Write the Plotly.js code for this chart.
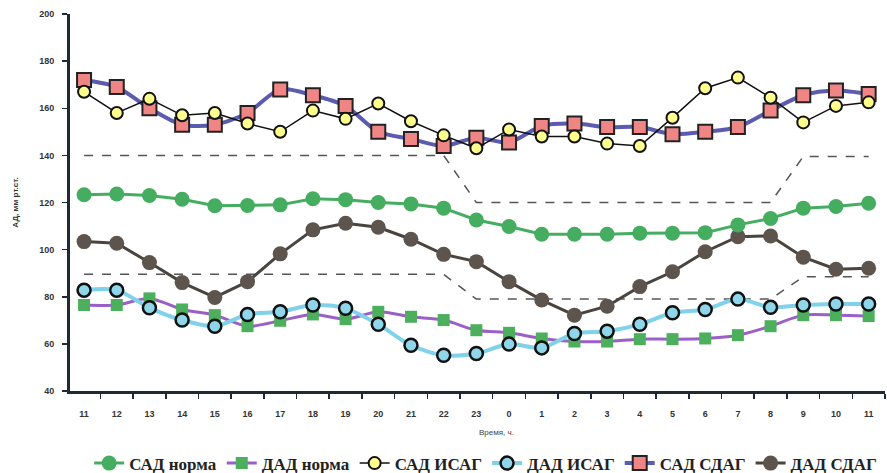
<!DOCTYPE html>
<html>
<head>
<meta charset="utf-8">
<script src="https://cdn.plot.ly/plotly-3.0.1.min.js"></script>
<style>html,body{margin:0;padding:0;background:#fff;}#chart{width:887px;height:473px;}</style>
</head>
<body>
<div id="chart"></div>
<script>
// Hour labels (categories)
const hours = ["11","12","13","14","15","16","17","18","19","20","21","22","23","0","1","2","3","4","5","6","7","8","9","10","11"];

// Series values, mm Hg
const sadNorma = [123.3,123.6,123,121.4,118.6,118.7,119,121.6,121.2,120,119.4,117.6,112.6,109.8,106.5,106.5,106.5,107,107,107.2,110.5,113.2,117.6,118.3,119.7];
const dadNorma = [76.5,76.5,79.3,74.6,72.2,67.5,69.8,72.5,70.5,73.6,71.5,70.1,65.8,64.7,62.3,61,61,62,62,62.3,63.7,67.5,72.2,72.2,71.8];
const sadIsag  = [167,158,164,157,158,153.5,150,159,155.5,162,154.5,148.5,143,151,148,148,145,144,156,168.5,173,164.5,154,161,162.5];
const dadIsag  = [82.8,82.8,75.3,70.1,67.5,72.5,73.6,76.5,75.1,68.3,59.4,55.2,55.9,59.9,58.3,64.4,65.4,68.3,73.2,74.6,79,75.5,76.5,76.9,76.9];
const sadSdag  = [172,169,160,153,153,158,168,165.5,161,150,147,144,147.5,145.5,152.5,153.5,152,152,149,150,152,159,165.5,167.5,166];
const dadSdag  = [103.4,102.7,94.5,86,79.7,86.4,98.2,108.4,111.2,109.5,104.4,98,94.9,86.4,78.6,72.2,76,84.3,90.6,99.1,105.5,105.8,96.8,91.7,92.1];

// Norm threshold lines (dashed)
const upperNorm = [140,140,140,140,140,140,140,140,140,140,140,140,120,120,120,120,120,120,120,120,120,120,139.5,139.5,139.5];
const lowerNorm = [89.5,89.5,89.5,89.5,89.5,89.5,89.5,89.5,89.5,89.5,89.5,89.5,79,79,79,79,79,79,79,79,79,79,88.5,88.5,88.5];

const xs = hours.map((h, i) => i);

const traces = [
  {x: xs, y: upperNorm, mode: 'lines', line: {color: '#555', width: 1.5, dash: 'dash'}, showlegend: false, hoverinfo: 'skip'},
  {x: xs, y: lowerNorm, mode: 'lines', line: {color: '#555', width: 1.5, dash: 'dash'}, showlegend: false, hoverinfo: 'skip'},
  {x: xs, y: sadSdag, name: 'САД СДАГ', legendrank: 5, mode: 'lines+markers',
   line: {color: '#5b5bb0', width: 4, shape: 'spline', smoothing: 0.8},
   marker: {symbol: 'square', size: 14, color: '#f08585', line: {color: '#222', width: 2}}},
  {x: xs, y: dadSdag, name: 'ДАД СДАГ', legendrank: 6, mode: 'lines+markers',
   line: {color: '#4a443e', width: 3},
   marker: {symbol: 'circle', size: 15, color: '#5d554d'}},
  {x: xs, y: sadNorma, name: 'САД норма', legendrank: 1, mode: 'lines+markers',
   line: {color: '#45ad60', width: 3},
   marker: {symbol: 'circle', size: 15, color: '#45ad60'}},
  {x: xs, y: dadNorma, name: 'ДАД норма', legendrank: 2, mode: 'lines+markers',
   line: {color: '#9b5fc8', width: 3, shape: 'spline', smoothing: 0.8},
   marker: {symbol: 'square', size: 12, color: '#4caf5c'}},
  {x: xs, y: sadIsag, name: 'САД ИСАГ', legendrank: 3, mode: 'lines+markers',
   line: {color: '#111', width: 1.5},
   marker: {symbol: 'circle', size: 12, color: '#ffff8e', line: {color: '#111', width: 2}}},
  {x: xs, y: dadIsag, name: 'ДАД ИСАГ', legendrank: 4, mode: 'lines+markers',
   line: {color: '#80d2ea', width: 4, shape: 'spline', smoothing: 0.8},
   marker: {symbol: 'circle', size: 13, color: '#8fd6ea', line: {color: '#111', width: 2.5}}}
];

const layout = {
  width: 887, height: 473,
  margin: {l: 70, r: 2, t: 14, b: 82},
  paper_bgcolor: '#fff', plot_bgcolor: '#fff',
  font: {family: 'Liberation Sans, Arial, sans-serif', color: '#333'},
  showlegend: true,
  legend: {orientation: 'h', x: 0.51, xanchor: 'center', yref: 'container', y: 0.058, yanchor: 'top',
           font: {family: 'Liberation Serif, Times New Roman, serif', size: 17, color: '#222', weight: 'bold'},
           traceorder: 'normal', itemwidth: 30, tracegroupgap: 0},
  xaxis: {
    range: [-0.43, 24.5], tickvals: xs, ticktext: hours, ticks: '',
    showgrid: false, zeroline: false, showline: true, linecolor: '#1f2a36', linewidth: 3,
    tickfont: {size: 9, color: '#333', weight: 'bold'}, ticklabelstandoff: 12,
    minor: {tick0: 0.5, dtick: 1, ticks: 'outside', ticklen: 5, tickcolor: '#1f2a36', tickwidth: 1.5, showgrid: false}
  },
  yaxis: {
    range: [40, 200], tickvals: [40,60,80,100,120,140,160,180,200], ticks: 'outside', ticklen: 5,
    tickcolor: '#1f2a36', tickwidth: 1.5,
    showgrid: false, zeroline: false, showline: true, linecolor: '#1f2a36', linewidth: 3,
    tickfont: {size: 9, color: '#333', weight: 'bold'}, ticklabelstandoff: 6,
    title: {text: 'АД, мм рт.ст.', font: {size: 8, color: '#333', weight: 'bold'}, standoff: 20}
  },
  annotations: [
    {text: 'Время, ч.', xref: 'paper', yref: 'paper', x: 0.523, y: -0.11, xanchor: 'center', yanchor: 'middle',
     showarrow: false, font: {size: 8, color: '#444'}}
  ]
};

Plotly.newPlot('chart', traces, layout, {displayModeBar: false, staticPlot: true});
</script>
</body>
</html>
